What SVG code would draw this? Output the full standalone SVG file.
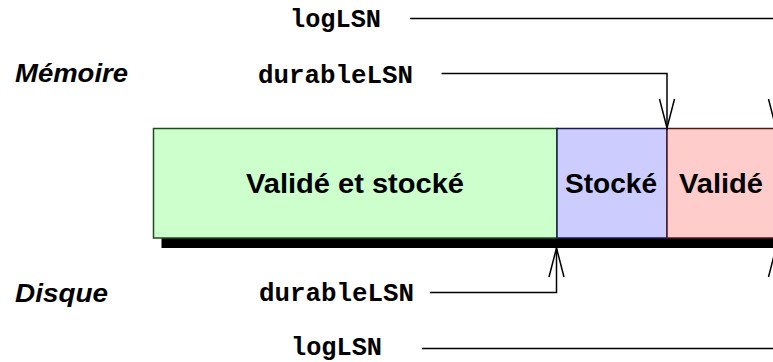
<svg xmlns="http://www.w3.org/2000/svg" width="773" height="362" viewBox="0 0 773 362">
<style>
.code{font-family:"Liberation Mono","Courier New",monospace;font-weight:bold;font-size:25px;fill:#000}
.lbl{font-family:"Liberation Sans",Arial,sans-serif;font-weight:bold;font-style:italic;font-size:25px;fill:#000}
.box{font-family:"Liberation Sans",Arial,sans-serif;font-weight:bold;font-size:27px;fill:#000}
.conn{fill:none;stroke:#000;stroke-width:1.5}
</style>
<defs>
<marker id="v" markerUnits="userSpaceOnUse" viewBox="-32 -10 34 20" refX="0" refY="0" markerWidth="34" markerHeight="20" orient="auto" overflow="visible">
<path d="M-29,-7.5 L0,0 L-29,7.5" fill="none" stroke="#000" stroke-width="1.5"/>
</marker>
</defs>
<rect x="0" y="0" width="773" height="362" fill="#fff"/>
<g id="labels">
<text class="lbl" x="15" y="82" textLength="113" lengthAdjust="spacingAndGlyphs">Mémoire</text>
<text class="lbl" x="15" y="302" textLength="93" lengthAdjust="spacingAndGlyphs">Disque</text>
<text class="code" x="290" y="27" textLength="91" lengthAdjust="spacingAndGlyphs">logLSN</text>
<text class="code" x="258" y="83" textLength="155" lengthAdjust="spacingAndGlyphs">durableLSN</text>
<text class="code" x="259" y="301" textLength="155" lengthAdjust="spacingAndGlyphs">durableLSN</text>
<text class="code" x="291" y="355" textLength="91" lengthAdjust="spacingAndGlyphs">logLSN</text>
</g>
<g id="shadow">
<rect x="161.5" y="238" width="620" height="10" fill="#000"/>
</g>
<g id="valide-et-stocke">
<rect x="153.5" y="128.5" width="403.5" height="109.5" fill="#ccffcc" stroke="#1f4d1f" stroke-width="1.5"/>
<text class="box" x="246" y="193" textLength="218" lengthAdjust="spacingAndGlyphs">Validé et stocké</text>
</g>
<g id="stocke">
<rect x="557" y="128.5" width="110" height="109.5" fill="#ccccff" stroke="#1a1a4d" stroke-width="1.5"/>
<text class="box" x="565" y="193" textLength="92" lengthAdjust="spacingAndGlyphs">Stocké</text>
</g>
<g id="valide">
<rect x="667" y="128.5" width="120" height="109.5" fill="#ffcccc" stroke="#4d1a1a" stroke-width="1.5"/>
<text class="box" x="679" y="193" textLength="84" lengthAdjust="spacingAndGlyphs">Validé</text>
</g>
<g id="connectors">
<path class="conn" d="M410,18.5 H776 V128" marker-end="url(#v)"/>
<path class="conn" d="M441.5,73.5 H667 V128" marker-end="url(#v)"/>
<path class="conn" d="M430,292.5 H556.5 V248" marker-end="url(#v)"/>
<path class="conn" d="M422,348.5 H776 V248" marker-end="url(#v)"/>
</g>
</svg>
